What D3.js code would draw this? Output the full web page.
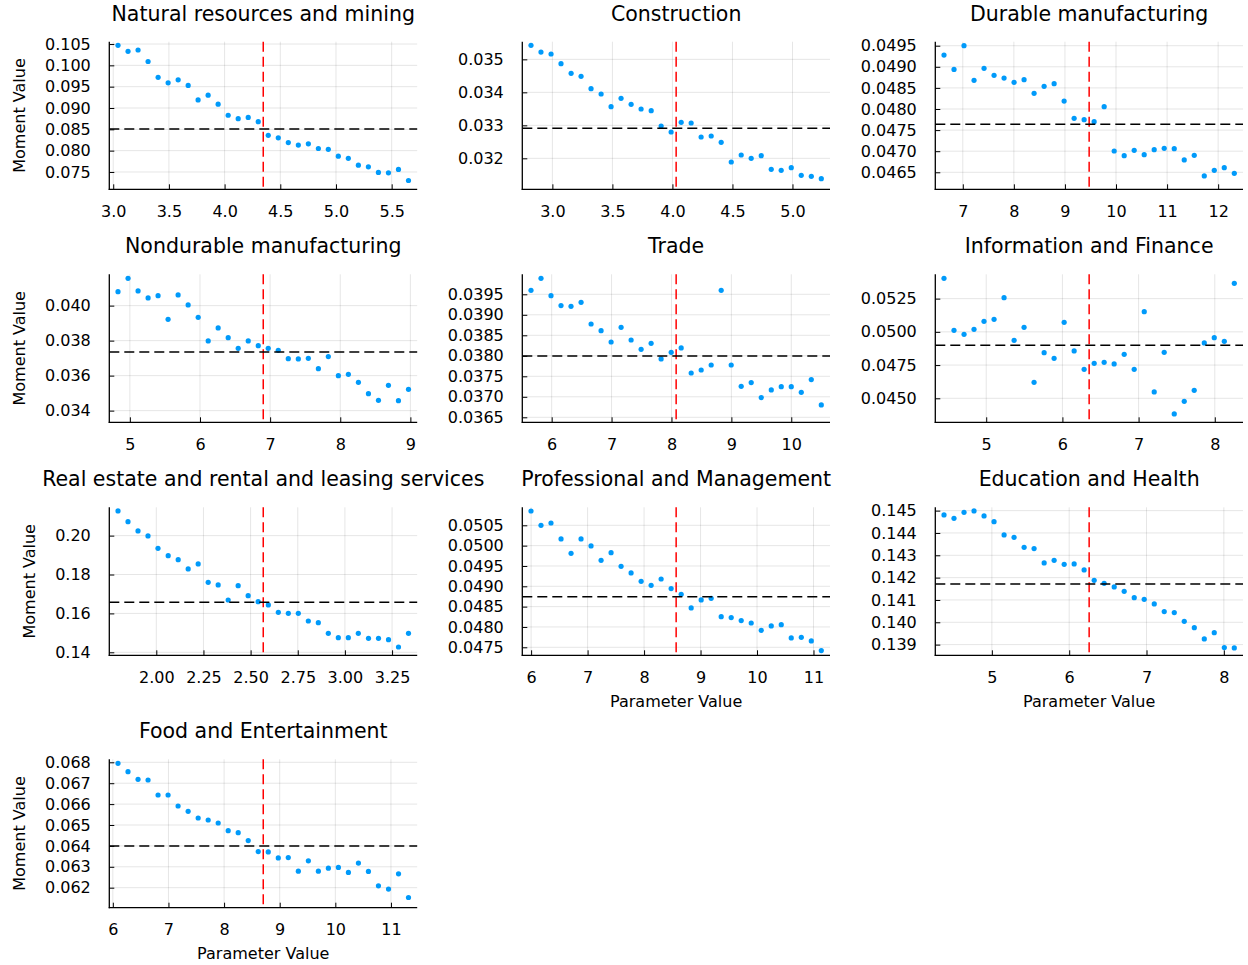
<!DOCTYPE html>
<html><head><meta charset="utf-8">
<script src="https://cdn.jsdelivr.net/npm/d3@7"></script>
<style>
body{margin:0;background:#fff}
svg{display:block}
text{font-family:"DejaVu Sans",sans-serif;fill:#000}
</style>
</head><body>
<svg id="chart" width="1248" height="965"></svg>
<script>
// ---------------- data ----------------
const titles = [
  "Natural resources and mining", "Construction", "Durable manufacturing",
  "Nondurable manufacturing", "Trade", "Information and Finance",
  "Real estate and rental and leasing services", "Professional and Management", "Education and Health",
  "Food and Entertainment"
];

const xNatural = [3.043,3.133,3.223,3.313,3.403,3.493,3.583,3.673,3.762,3.852,3.942,4.032,4.122,4.212,4.302,4.392,4.482,4.572,4.662,4.752,4.842,4.931,5.021,5.111,5.201,5.291,5.381,5.471,5.561,5.651];
const yNatural = [0.1047,0.1033,0.1036,0.1009,0.0972,0.0959,0.0966,0.0953,0.0919,0.0930,0.0909,0.0883,0.0875,0.0878,0.0868,0.0836,0.0830,0.0819,0.0813,0.0816,0.0805,0.0803,0.0787,0.0782,0.0766,0.0762,0.0749,0.0748,0.0756,0.0730];

const xConstruction = [2.822,2.905,2.989,3.072,3.156,3.239,3.322,3.406,3.489,3.572,3.656,3.739,3.823,3.906,3.989,4.073,4.156,4.239,4.323,4.406,4.490,4.573,4.656,4.740,4.823,4.906,4.990,5.073,5.157,5.240];
const yConstruction = [0.035424,0.035222,0.035162,0.034869,0.034576,0.034485,0.034111,0.033949,0.033566,0.033818,0.033636,0.033495,0.033444,0.032980,0.032798,0.033091,0.033071,0.032646,0.032677,0.032485,0.031889,0.032101,0.032000,0.032081,0.031667,0.031636,0.031717,0.031485,0.031455,0.031384];

const xDurable = [6.632,6.828,7.024,7.220,7.416,7.612,7.808,8.004,8.200,8.396,8.592,8.788,8.984,9.180,9.376,9.572,9.768,9.964,10.160,10.356,10.552,10.748,10.944,11.140,11.336,11.532,11.728,11.924,12.120,12.316];
const yDurable = [0.049279,0.048939,0.049500,0.048679,0.048963,0.048797,0.048734,0.048632,0.048695,0.048371,0.048537,0.048600,0.048189,0.047779,0.047747,0.047700,0.048055,0.047005,0.046895,0.047021,0.046918,0.047037,0.047068,0.047060,0.046792,0.046903,0.046413,0.046547,0.046610,0.046476];

const xNondurable = [4.831,4.974,5.117,5.260,5.402,5.545,5.688,5.831,5.974,6.117,6.259,6.402,6.545,6.688,6.831,6.973,7.116,7.259,7.402,7.545,7.688,7.830,7.973,8.116,8.259,8.402,8.545,8.687,8.830,8.973];
const yNondurable = [0.040800,0.041562,0.040838,0.040438,0.040571,0.039219,0.040610,0.040038,0.039333,0.037981,0.038724,0.038171,0.037562,0.037981,0.037714,0.037562,0.037448,0.036971,0.036952,0.036990,0.036400,0.037086,0.036000,0.036076,0.035619,0.034971,0.034590,0.035448,0.034571,0.035219];

const xTrade = [5.655,5.822,5.989,6.156,6.323,6.491,6.658,6.825,6.992,7.159,7.326,7.493,7.660,7.827,7.995,8.162,8.329,8.496,8.663,8.830,8.997,9.164,9.331,9.499,9.666,9.833,10.000,10.167,10.334,10.501];
const yTrade = [0.039598,0.039890,0.039467,0.039224,0.039207,0.039305,0.038776,0.038614,0.038337,0.038695,0.038386,0.038159,0.038305,0.037923,0.038085,0.038191,0.037581,0.037654,0.037776,0.039598,0.037776,0.037256,0.037346,0.036980,0.037167,0.037248,0.037248,0.037110,0.037419,0.036801];

const xInfo = [4.446,4.577,4.709,4.840,4.971,5.103,5.234,5.366,5.497,5.628,5.760,5.891,6.023,6.154,6.285,6.417,6.548,6.679,6.811,6.942,7.074,7.205,7.336,7.468,7.599,7.730,7.862,7.993,8.125,8.256];
const yInfo = [0.054030,0.050117,0.049816,0.050192,0.050794,0.050945,0.052575,0.049364,0.050343,0.046204,0.048437,0.048010,0.050719,0.048562,0.047182,0.047634,0.047709,0.047584,0.048311,0.047182,0.051522,0.045477,0.048462,0.043821,0.044774,0.045602,0.049164,0.049565,0.049289,0.053654];

const xRealEstate = [1.797,1.850,1.903,1.956,2.009,2.063,2.116,2.169,2.222,2.275,2.328,2.381,2.434,2.487,2.540,2.594,2.647,2.700,2.753,2.806,2.859,2.912,2.965,3.018,3.071,3.125,3.178,3.231,3.284,3.337];
const yRealEstate = [0.21269,0.20720,0.20240,0.19983,0.19349,0.18971,0.18766,0.18286,0.18543,0.17600,0.17463,0.16691,0.17429,0.16914,0.16606,0.16434,0.16057,0.16006,0.16006,0.15611,0.15526,0.14977,0.14754,0.14754,0.14977,0.14720,0.14720,0.14651,0.14274,0.14977];

const xProfessional = [5.998,6.175,6.352,6.530,6.707,6.884,7.061,7.239,7.416,7.593,7.770,7.948,8.125,8.302,8.479,8.657,8.834,9.011,9.188,9.366,9.543,9.720,9.897,10.075,10.252,10.429,10.606,10.784,10.961,11.138];
const yProfessional = [0.050852,0.050500,0.050557,0.050164,0.049811,0.050164,0.049992,0.049639,0.049828,0.049492,0.049328,0.049123,0.049025,0.049180,0.048943,0.048803,0.048467,0.048664,0.048705,0.048254,0.048230,0.048156,0.048098,0.047918,0.048025,0.048057,0.047730,0.047746,0.047656,0.047418];

const xEducation = [4.381,4.510,4.640,4.769,4.899,5.028,5.158,5.287,5.417,5.546,5.676,5.805,5.935,6.064,6.193,6.323,6.452,6.582,6.711,6.841,6.970,7.100,7.229,7.359,7.488,7.618,7.747,7.876,8.006,8.135];
const yEducation = [0.144806,0.144657,0.144925,0.144985,0.144761,0.144507,0.143910,0.143806,0.143358,0.143299,0.142657,0.142776,0.142597,0.142612,0.142343,0.141881,0.141746,0.141582,0.141388,0.141104,0.141030,0.140821,0.140478,0.140433,0.140045,0.139761,0.139254,0.139537,0.138866,0.138851];

const xFood = [6.093,6.273,6.453,6.633,6.813,6.993,7.173,7.354,7.534,7.714,7.894,8.074,8.254,8.434,8.614,8.794,8.974,9.154,9.335,9.515,9.695,9.875,10.055,10.235,10.415,10.595,10.775,10.956,11.136,11.315];
const yFood = [0.067952,0.067553,0.067186,0.067154,0.066436,0.066436,0.065910,0.065654,0.065335,0.065239,0.065096,0.064729,0.064633,0.064255,0.063729,0.063713,0.063426,0.063442,0.062793,0.063285,0.062793,0.062936,0.062968,0.062729,0.063176,0.062777,0.062091,0.061932,0.062665,0.061532];

const trueParams = [4.347, 4.031, 9.474, 6.902, 8.078, 6.351, 2.567, 8.568, 6.258, 8.704];
const targetMoments = [0.08508, 0.032909, 0.047637, 0.037352, 0.037996, 0.048988, 0.16571, 0.048746, 0.141716, 0.06399];

const yLimits = [
  [0.070938, 0.105547], [0.031061, 0.035535], [0.046097, 0.049595],
  [0.033333, 0.041790], [0.036378, 0.039988], [0.043194, 0.054331],
  [0.138459, 0.214571], [0.047303, 0.050943], [0.138522, 0.145149],
  [0.061043, 0.068144]
];

const xTickLabels = [
  ["3.0","3.5","4.0","4.5","5.0","5.5"],
  ["3.0","3.5","4.0","4.5","5.0"],
  ["7","8","9","10","11","12"],
  ["5","6","7","8","9"],
  ["6","7","8","9","10"],
  ["5","6","7","8"],
  ["2.00","2.25","2.50","2.75","3.00","3.25"],
  ["6","7","8","9","10","11"],
  ["5","6","7","8"],
  ["6","7","8","9","10","11"]
];
const yTickLabels = [
  ["0.075","0.080","0.085","0.090","0.095","0.100","0.105"],
  ["0.032","0.033","0.034","0.035"],
  ["0.0465","0.0470","0.0475","0.0480","0.0485","0.0490","0.0495"],
  ["0.034","0.036","0.038","0.040"],
  ["0.0365","0.0370","0.0375","0.0380","0.0385","0.0390","0.0395"],
  ["0.0450","0.0475","0.0500","0.0525"],
  ["0.14","0.16","0.18","0.20"],
  ["0.0475","0.0480","0.0485","0.0490","0.0495","0.0500","0.0505"],
  ["0.139","0.140","0.141","0.142","0.143","0.144","0.145"],
  ["0.062","0.063","0.064","0.065","0.066","0.067","0.068"]
];

const xSeries = [xNatural, xConstruction, xDurable, xNondurable, xTrade, xInfo, xRealEstate, xProfessional, xEducation, xFood];
const ySeries = [yNatural, yConstruction, yDurable, yNondurable, yTrade, yInfo, yRealEstate, yProfessional, yEducation, yFood];

const yAxisTitle = "Moment Value";
const xAxisTitle = "Parameter Value";

// ---------------- layout ----------------
const colBounds = [[109.3, 417.2], [522.3, 830], [935.3, 1243]];
const rowBounds = [[41.7, 189.3], [274.3, 422.3], [507.3, 655.3], [759.3, 907.7]];
const pointColor = "#009afa";
const svg = d3.select("#chart");

titles.forEach((title, i) => {
  const col = i % 3, row = Math.floor(i / 3);
  const [L, R] = colBounds[col];
  const [T, B] = rowBounds[row];
  const xs = xSeries[i], ys = ySeries[i];
  const [xmin, xmax] = d3.extent(xs);
  const pad = (xmax - xmin) * 0.03;
  const x = d3.scaleLinear().domain([xmin - pad, xmax + pad]).range([L, R]);
  const y = d3.scaleLinear().domain(yLimits[i]).range([B, T]);

  const g = svg.append("g");
  const xt = xTickLabels[i], yt = yTickLabels[i];

  // grid
  g.selectAll(".gx").data(xt).join("line")
    .attr("x1", d => x(+d)).attr("x2", d => x(+d)).attr("y1", T).attr("y2", B)
    .attr("stroke", "#000").attr("stroke-opacity", 0.1).attr("stroke-width", 1);
  g.selectAll(".gy").data(yt).join("line")
    .attr("x1", L).attr("x2", R).attr("y1", d => y(+d)).attr("y2", d => y(+d))
    .attr("stroke", "#000").attr("stroke-opacity", 0.1).attr("stroke-width", 1);

  // axes with inward ticks
  const xAxis = d3.axisBottom(x).tickValues(xt.map(Number)).tickFormat((d, k) => xt[k])
    .tickSizeInner(-5).tickSizeOuter(0).tickPadding(16);
  const yAxis = d3.axisLeft(y).tickValues(yt.map(Number)).tickFormat((d, k) => yt[k])
    .tickSizeInner(-5).tickSizeOuter(0).tickPadding(18.5);
  const gx = g.append("g").attr("transform", `translate(0,${B})`).call(xAxis);
  const gy = g.append("g").attr("transform", `translate(${L},0)`).call(yAxis);
  [gx, gy].forEach(a => {
    a.select(".domain").remove();
    a.selectAll("line").attr("stroke", "#000").attr("stroke-width", 1);
    a.selectAll("text").attr("font-size", 16).attr("font-family", "DejaVu Sans").attr("fill", "#000");
  });
  gx.selectAll("text").attr("dy", "0.71em");
  g.append("line").attr("x1", L).attr("x2", L).attr("y1", T).attr("y2", B + 0.6)
    .attr("stroke", "#000").attr("stroke-width", 1.3);
  g.append("line").attr("x1", L - 0.6).attr("x2", R).attr("y1", B).attr("y2", B)
    .attr("stroke", "#000").attr("stroke-width", 1.3);

  // scatter
  g.selectAll("circle").data(xs.map((v, k) => [v, ys[k]])).join("circle")
    .attr("cx", d => x(d[0])).attr("cy", d => y(d[1])).attr("r", 2.6)
    .attr("fill", pointColor);

  // reference lines
  g.append("line").attr("x1", x(trueParams[i])).attr("x2", x(trueParams[i]))
    .attr("y1", T).attr("y2", B)
    .attr("stroke", "#ff0000").attr("stroke-width", 1.5).attr("stroke-dasharray", "10,5");
  g.append("line").attr("x1", L).attr("x2", R)
    .attr("y1", y(targetMoments[i])).attr("y2", y(targetMoments[i]))
    .attr("stroke", "#000").attr("stroke-width", 1.5).attr("stroke-dasharray", "10,5");

  // title
  g.append("text").attr("x", (L + R) / 2).attr("y", T - 21)
    .attr("text-anchor", "middle").attr("font-size", 20.5).text(title);

  // axis titles
  if (col === 0) {
    let maxW = 0;
    gy.selectAll("text").each(function () { maxW = Math.max(maxW, this.getComputedTextLength()); });
    const labelRight = L - 18.5;
    const bx = labelRight - maxW - 20;
    g.append("text").attr("transform", `translate(${bx},${(T + B) / 2}) rotate(-90)`)
      .attr("text-anchor", "middle").attr("font-size", 16).text(yAxisTitle);
  }
  if (i >= 7) {
    g.append("text").attr("x", (L + R) / 2).attr("y", B + 51.7)
      .attr("text-anchor", "middle").attr("font-size", 16).text(xAxisTitle);
  }
});
</script>
</body></html>
